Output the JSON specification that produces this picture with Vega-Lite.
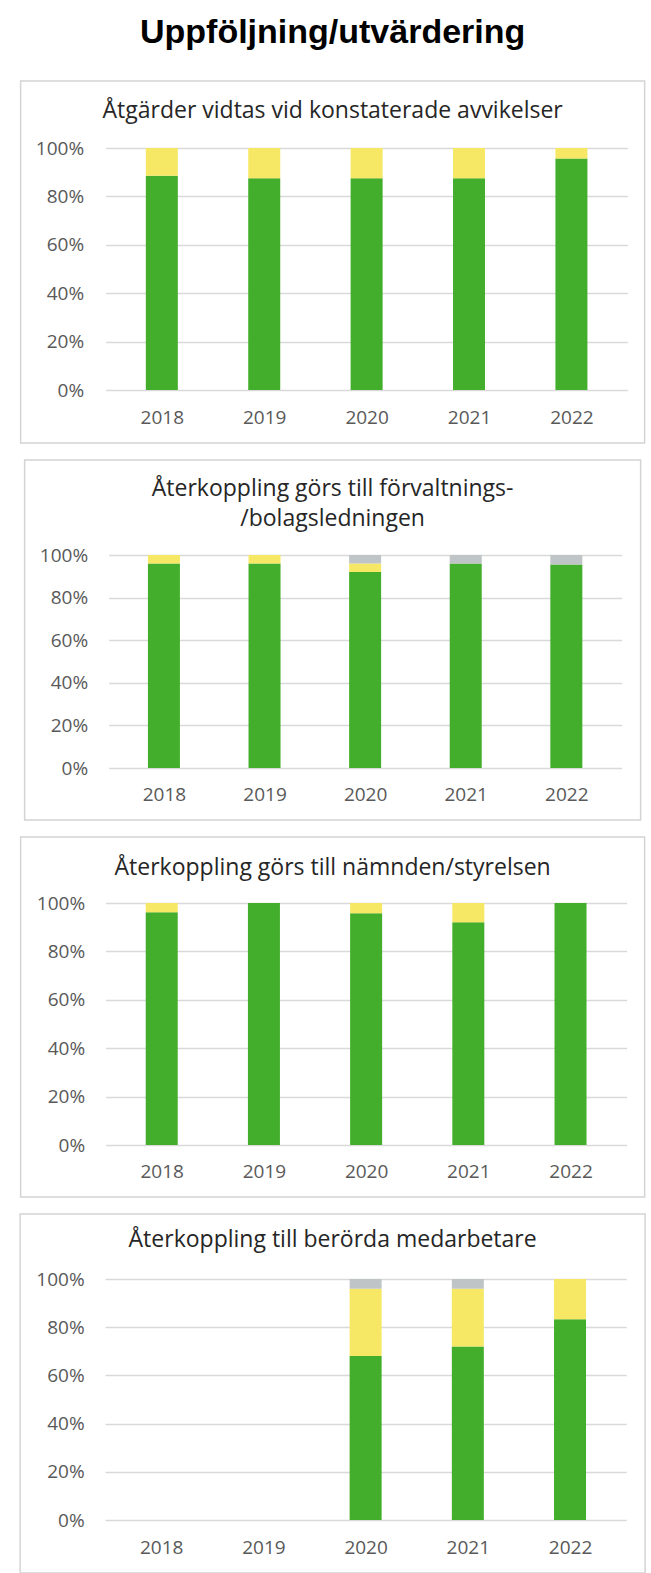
{
  "$schema": "https://vega.github.io/schema/vega-lite/v6.json",
  "background": "white",
  "padding": {"left": 19, "top": 16, "right": 5, "bottom": 5},
  "title": {
    "text": "Uppföljning/utvärdering",
    "font": "Liberation Sans",
    "fontSize": 34,
    "fontWeight": "bold",
    "color": "#000000",
    "anchor": "middle",
    "offset": 30
  },
  "data": {
    "values": [
      {"panel": 1, "year": 2018, "cat": "Ja", "value": 0.885},
      {"panel": 1, "year": 2018, "cat": "Delvis", "value": 0.115},
      {"panel": 1, "year": 2019, "cat": "Ja", "value": 0.875},
      {"panel": 1, "year": 2019, "cat": "Delvis", "value": 0.125},
      {"panel": 1, "year": 2020, "cat": "Ja", "value": 0.875},
      {"panel": 1, "year": 2020, "cat": "Delvis", "value": 0.125},
      {"panel": 1, "year": 2021, "cat": "Ja", "value": 0.875},
      {"panel": 1, "year": 2021, "cat": "Delvis", "value": 0.125},
      {"panel": 1, "year": 2022, "cat": "Ja", "value": 0.957},
      {"panel": 1, "year": 2022, "cat": "Delvis", "value": 0.043},
      {"panel": 2, "year": 2018, "cat": "Ja", "value": 0.96},
      {"panel": 2, "year": 2018, "cat": "Delvis", "value": 0.04},
      {"panel": 2, "year": 2019, "cat": "Ja", "value": 0.96},
      {"panel": 2, "year": 2019, "cat": "Delvis", "value": 0.04},
      {"panel": 2, "year": 2020, "cat": "Ja", "value": 0.92},
      {"panel": 2, "year": 2020, "cat": "Delvis", "value": 0.04},
      {"panel": 2, "year": 2020, "cat": "Annat", "value": 0.04},
      {"panel": 2, "year": 2021, "cat": "Ja", "value": 0.96},
      {"panel": 2, "year": 2021, "cat": "Annat", "value": 0.04},
      {"panel": 2, "year": 2022, "cat": "Ja", "value": 0.955},
      {"panel": 2, "year": 2022, "cat": "Annat", "value": 0.045},
      {"panel": 3, "year": 2018, "cat": "Ja", "value": 0.962},
      {"panel": 3, "year": 2018, "cat": "Delvis", "value": 0.038},
      {"panel": 3, "year": 2019, "cat": "Ja", "value": 1.0},
      {"panel": 3, "year": 2020, "cat": "Ja", "value": 0.958},
      {"panel": 3, "year": 2020, "cat": "Delvis", "value": 0.042},
      {"panel": 3, "year": 2021, "cat": "Ja", "value": 0.92},
      {"panel": 3, "year": 2021, "cat": "Delvis", "value": 0.08},
      {"panel": 3, "year": 2022, "cat": "Ja", "value": 1.0},
      {"panel": 4, "year": 2020, "cat": "Ja", "value": 0.68},
      {"panel": 4, "year": 2020, "cat": "Delvis", "value": 0.28},
      {"panel": 4, "year": 2020, "cat": "Annat", "value": 0.04},
      {"panel": 4, "year": 2021, "cat": "Ja", "value": 0.72},
      {"panel": 4, "year": 2021, "cat": "Delvis", "value": 0.24},
      {"panel": 4, "year": 2021, "cat": "Annat", "value": 0.04},
      {"panel": 4, "year": 2022, "cat": "Ja", "value": 0.833},
      {"panel": 4, "year": 2022, "cat": "Delvis", "value": 0.167}
    ]
  },
  "spacing": 15,
  "center": true,
  "vconcat": [
    {
      "width": 624,
      "height": 362,
      "title": {"text": "Åtgärder vidtas vid konstaterade avvikelser", "offset": -42},
      "transform": [{"filter": "datum.panel === 1"}],
      "mark": {"type": "bar", "size": 32},
      "encoding": {
        "x": {"field": "year", "type": "quantitative",
          "scale": {"domain": [2017.5, 2022.5], "range": [85, 607], "nice": false, "zero": false},
          "axis": {"offset": -26, "values": [2018, 2019, 2020, 2021, 2022], "format": "d"}},
        "y": {"field": "value", "type": "quantitative", "stack": "zero",
          "scale": {"domain": [0, 1], "range": [309, 67], "nice": false, "zero": false},
          "axis": {"offset": -63, "values": [0, 0.2, 0.4, 0.6, 0.8, 1], "format": ".0%"}},
        "color": {"field": "cat", "type": "nominal",
          "scale": {"domain": ["Ja", "Delvis", "Annat"], "range": ["#43AE2B", "#F6E864", "#BFC4C6"]},
          "legend": null}
      }
    },
    {
      "width": 616,
      "height": 360,
      "title": {"text": ["Återkoppling görs till förvaltnings-", "/bolagsledningen"], "offset": -71, "lineHeight": 30},
      "transform": [{"filter": "datum.panel === 2"}],
      "mark": {"type": "bar", "size": 32},
      "encoding": {
        "x": {"field": "year", "type": "quantitative",
          "scale": {"domain": [2017.5, 2022.5], "range": [84, 597], "nice": false, "zero": false},
          "axis": {"offset": -26, "values": [2018, 2019, 2020, 2021, 2022], "format": "d"}},
        "y": {"field": "value", "type": "quantitative", "stack": "zero",
          "scale": {"domain": [0, 1], "range": [308, 95], "nice": false, "zero": false},
          "axis": {"offset": -63, "values": [0, 0.2, 0.4, 0.6, 0.8, 1], "format": ".0%"}},
        "color": {"field": "cat", "type": "nominal",
          "scale": {"domain": ["Ja", "Delvis", "Annat"], "range": ["#43AE2B", "#F6E864", "#BFC4C6"]},
          "legend": null}
      }
    },
    {
      "width": 624,
      "height": 360,
      "title": {"text": "Återkoppling görs till nämnden/styrelsen", "offset": -43},
      "transform": [{"filter": "datum.panel === 3"}],
      "mark": {"type": "bar", "size": 32},
      "encoding": {
        "x": {"field": "year", "type": "quantitative",
          "scale": {"domain": [2017.5, 2022.5], "range": [85, 606], "nice": false, "zero": false},
          "axis": {"offset": -26, "values": [2018, 2019, 2020, 2021, 2022], "format": "d"}},
        "y": {"field": "value", "type": "quantitative", "stack": "zero",
          "scale": {"domain": [0, 1], "range": [308, 66], "nice": false, "zero": false},
          "axis": {"offset": -64, "values": [0, 0.2, 0.4, 0.6, 0.8, 1], "format": ".0%"}},
        "color": {"field": "cat", "type": "nominal",
          "scale": {"domain": ["Ja", "Delvis", "Annat"], "range": ["#43AE2B", "#F6E864", "#BFC4C6"]},
          "legend": null}
      }
    },
    {
      "width": 625,
      "height": 359,
      "title": {"text": "Återkoppling till berörda medarbetare", "offset": -38},
      "transform": [{"filter": "datum.panel === 4"}],
      "mark": {"type": "bar", "size": 32},
      "encoding": {
        "x": {"field": "year", "type": "quantitative",
          "scale": {"domain": [2017.5, 2022.5], "range": [85, 606], "nice": false, "zero": false},
          "axis": {"offset": -26, "values": [2018, 2019, 2020, 2021, 2022], "format": "d"}},
        "y": {"field": "value", "type": "quantitative", "stack": "zero",
          "scale": {"domain": [0, 1], "range": [306, 65], "nice": false, "zero": false},
          "axis": {"offset": -64, "values": [0, 0.2, 0.4, 0.6, 0.8, 1], "format": ".0%"}},
        "color": {"field": "cat", "type": "nominal",
          "scale": {"domain": ["Ja", "Delvis", "Annat"], "range": ["#43AE2B", "#F6E864", "#BFC4C6"]},
          "legend": null}
      }
    }
  ],
  "config": {
    "view": {"stroke": "#d4d4d4", "strokeWidth": 1.5},
    "title": {"font": "Open Sans", "fontSize": 23, "fontWeight": "normal", "color": "#262626", "anchor": "middle", "lineHeight": 28},
    "axisX": {
      "labelPadding": 0, "labelBaseline": "middle",
      "ticks": false, "domain": false, "grid": false, "title": null, "labelFlush": false,
      "labelFont": "Open Sans", "labelFontSize": 19, "labelColor": "#595959"
    },
    "axisY": {
      "labelPadding": 0,
      "ticks": false, "domain": false, "grid": true, "gridColor": "#d9d9d9", "gridWidth": 1.5, "title": null,
      "labelFont": "Open Sans", "labelFontSize": 19, "labelColor": "#595959"
    }
  }
}
